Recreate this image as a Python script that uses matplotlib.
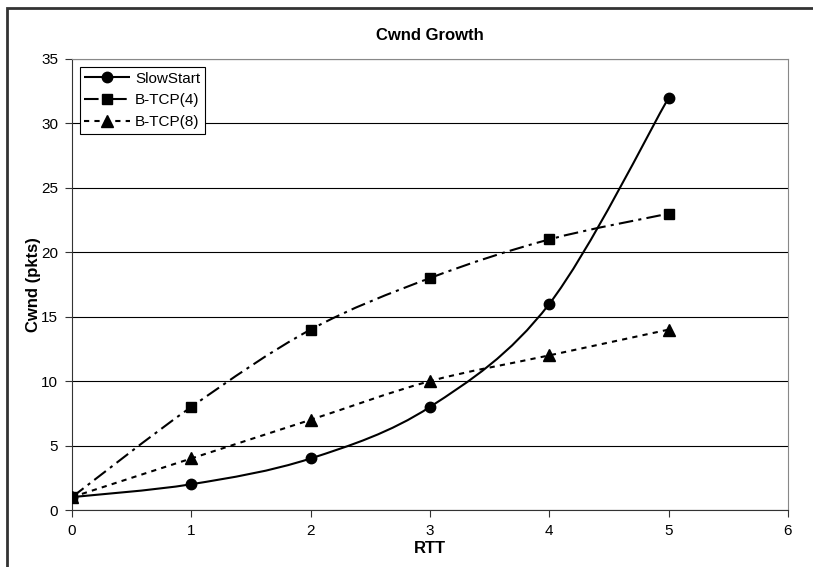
import matplotlib
matplotlib.use('Agg')
import matplotlib.pyplot as plt
import numpy as np
from matplotlib.path import Path
from matplotlib.patches import PathPatch, Rectangle

plt.rcParams['font.family'] = ['Liberation Sans', 'DejaVu Sans']

rtt = [0, 1, 2, 3, 4, 5]
slow_start = [1, 2, 4, 8, 16, 32]
btcp4 = [1, 8, 14, 18, 21, 23]
btcp8 = [1, 4, 7, 10, 12, 14]
labels = ['SlowStart', 'B-TCP(4)', 'B-TCP(8)']


def smooth_path(x, y):
    # Excel-style smoothed line: Catmull-Rom turned into cubic Bezier segments
    pts = np.column_stack([x, y]).astype(float)
    n = len(pts)
    verts = [pts[0]]
    codes = [Path.MOVETO]
    for i in range(n - 1):
        p0 = pts[i - 1] if i > 0 else pts[i]
        p1 = pts[i]
        p2 = pts[i + 1]
        p3 = pts[i + 2] if i + 2 < n else pts[i + 1]
        c1 = p1 + (p2 - p0) / 6.0
        c2 = p2 - (p3 - p1) / 6.0
        verts += [c1, c2, p2]
        codes += [Path.CURVE4] * 3
    return Path(verts, codes)


fig = plt.figure(figsize=(8.13, 5.67), dpi=100)
ax = fig.add_axes([72 / 813, 1 - 510 / 567, 716 / 813, 451 / 567])

# outer chart frame (cut off at right/bottom like the screenshot)
fig.patches.append(Rectangle((7 / 813, -0.05), 1.2, 1 - 8 / 567 + 0.05,
                             transform=fig.transFigure, fill=False,
                             edgecolor='#333333', linewidth=2))

series = [
    (slow_start, 'o', (0, ()), 7.5),
    (btcp4, 's', (0, (7, 2.5, 1.5, 2.5)), 7.5),
    (btcp8, '^', (0, (2.5, 2.5)), 8.5),
]
handles = []
for (vals, mk, ls, ms), lab in zip(series, labels):
    patch = PathPatch(smooth_path(rtt, vals), facecolor='none', edgecolor='black',
                      linewidth=1.5, linestyle=ls, zorder=3)
    ax.add_patch(patch)
    ax.plot(rtt, vals, linestyle='none', marker=mk, markersize=ms, color='black', zorder=4)
    h, = ax.plot([], [], linestyle=ls, linewidth=1.5, marker=mk, markersize=ms, color='black', label=lab)
    handles.append(h)

ax.set_xlim(0, 6)
ax.set_ylim(0, 35)
ax.set_xticks(range(0, 7))
ax.set_yticks(range(0, 36, 5))
ax.yaxis.grid(True, color='black', linewidth=0.8)
ax.set_axisbelow(True)
for s in ['top', 'right']:
    ax.spines[s].set_color('#888888')
for s in ['left', 'bottom']:
    ax.spines[s].set_color('#333333')
ax.tick_params(direction='out', length=5, labelsize=11, pad=5, color='#333333')

ax.set_title('Cwnd Growth', fontsize=12, fontweight='bold', pad=14)
ax.set_xlabel('RTT', fontsize=12, fontweight='bold', labelpad=2)
ax.set_ylabel('Cwnd (pkts)', fontsize=12, fontweight='bold', labelpad=0)

leg = ax.legend(handles=handles, loc='upper left', bbox_to_anchor=(0.011, 0.982),
                borderaxespad=0, fontsize=11, fancybox=False, edgecolor='black',
                framealpha=1, handlelength=3.0, borderpad=0.3, labelspacing=0.5,
                handletextpad=0.3)
leg.get_frame().set_linewidth(0.8)

plt.savefig('out.png', dpi=100)
